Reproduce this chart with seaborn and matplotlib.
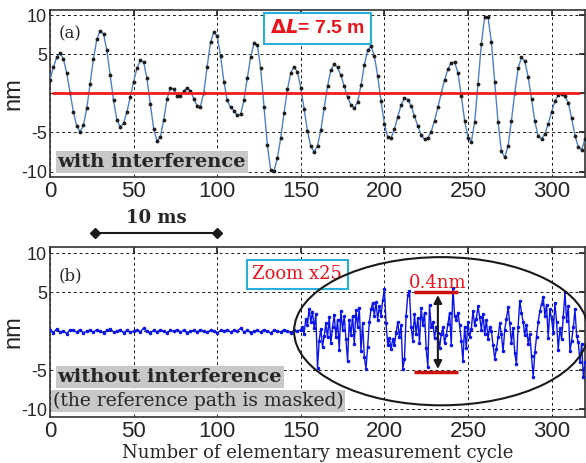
import numpy as np
import seaborn as sns
import matplotlib
matplotlib.use("Agg")
import matplotlib.pyplot as plt
import matplotlib.transforms as mtransforms
from matplotlib.patches import Ellipse

# valori (nm)
# pannello (a): un punto ogni 2 cicli, da 0 a 320
top_nm = [1.7, 3.3, 4.6, 5.1, 4.4, 2.6, 0.1, -2.4, -4.2, -4.9,
          -4.1, -1.9, 1.2, 4.4, 6.9, 8.0, 7.6, 5.5, 2.3, -0.9,
          -3.4, -4.3, -3.8, -2.4, -0.5, 1.5, 3.2, 4.2, 4.0, 1.9,
          -1.4, -4.5, -6.1, -5.6, -3.4, -0.7, 0.7, 0.5, -0.3, -0.3,
          0.3, 0.7, 0.3, -0.7, -1.6, -1.7, 0.1, 3.4, 6.5, 7.8,
          7.3, 4.8, 1.5, -0.9, -1.8, -2.2, -2.8, -2.7, -0.9, 1.9,
          4.6, 6.4, 6.2, 3.2, -1.7, -6.6, -9.8, -9.9, -8.3, -5.7,
          -2.5, 0.5, 2.6, 3.4, 2.7, 0.7, -2.0, -4.8, -6.8, -7.5,
          -6.7, -4.7, -1.9, 0.9, 3.0, 3.7, 3.3, 2.3, 0.9, -0.5,
          -1.5, -1.9, -1.1, 1.0, 3.6, 5.5, 6.0, 4.8, 2.2, -1.0,
          -3.9, -5.6, -5.7, -4.6, -3.0, -1.5, -0.6, -0.8, -1.6, -2.9,
          -4.2, -5.3, -5.9, -5.7, -4.9, -3.5, -1.8, 0.0, 1.7, 3.1,
          3.9, 4.0, 2.6, -0.3, -3.5, -5.7, -6.2, -3.7, 1.2, 6.3,
          9.8, 9.7, 6.6, 1.5, -3.7, -7.4, -8.2, -6.7, -3.5, 0.1,
          3.2, 4.6, 4.1, 2.1, -0.7, -3.6, -5.5, -5.8, -5.2, -3.9,
          -2.4, -1.0, -0.2, -0.1, -0.4, -1.2, -3.2, -5.4, -6.9, -7.2,
          -5.9]

# pannello (b): parte piatta, un punto ogni 2 cicli da 0 a 148
flat_nm = [0.1, -0.2, 0.3, -0.1, 0.0, -0.3, 0.2, 0.1, -0.1, 0.2,
           -0.2, 0.0, 0.1, -0.1, 0.2, 0.0, -0.2, 0.1, 0.3, -0.1,
           0.0, 0.2, -0.2, 0.1, -0.1, 0.0, 0.2, -0.1, 0.4, 0.0,
           -0.2, 0.1, -0.1, 0.2, 0.0, -0.2, 0.1, 0.0, 0.2, -0.1,
           0.1, -0.2, 0.0, 0.1, -0.1, 0.2, 0.0, -0.1, 0.1, 0.0,
           -0.2, 0.1, 0.0, 0.2, -0.1, 0.1, 0.0, 0.4, -0.1, 0.1,
           -0.2, 0.0, 0.1, -0.1, 0.2, 0.0, -0.2, 0.1, 0.0, -0.1,
           0.2, 0.0, -0.2, 0.1, 0.0]

# pannello (b): parte ingrandita x25, un punto per ciclo da 150 a 320
zoom_nm = [0.2, 0.5, -0.3, 1.6, 0.8, 2.9, 1.2, 2.5, 0.4, 2.2,
           -4.7, -1.2, 0.3, -2.0, -0.6, 1.0, -0.8, 1.8, -1.5, 0.5,
           2.1, -0.7, 1.5, -2.4, 2.6, 0.2, 1.9, -1.0, -3.8, 1.4,
           -0.5, 2.0, -1.6, 2.7, 0.6, 3.0, -2.5, 1.0, -3.3, -4.8,
           -2.0, 1.2, 2.8, 3.6, 2.0, 3.7, 1.5, 3.2, 2.0, 4.0,
           5.4, 1.0, -1.8, -0.9, -2.3, -1.0, -1.8, -0.2, 1.2, -0.8,
           0.8, -4.8, -3.6, 2.0, 4.6, 5.2, 0.5, -1.2, 2.2, -0.4,
           1.7, -1.5, 3.0, 0.8, 2.4, -2.2, -4.6, 3.3, 0.5, 1.2,
           -0.9, 0.6, -0.2, -2.2, -0.4, 0.5, -1.5, -0.5, 0.9, 2.4,
           -1.8, 5.6, 2.0, 1.4, 2.4, 0.8, -1.2, -3.8, 0.6, -2.2,
           1.2, -0.8, 0.3, 2.6, 0.8, 1.6, 3.2, 1.8, 0.2, 2.2,
           -0.3, 1.4, -1.0, 0.6, 0.0, -1.8, -3.5, -2.3, -0.8, 1.0,
           -0.4, -2.6, 0.2, 1.6, 3.1, 1.0, -1.5, 0.4, -2.8, -4.2,
           0.6, 3.9, 2.4, 1.2, -0.5, 0.8, -1.6, -0.4, -3.2, -5.9,
           -2.7, -0.8, 1.2, 2.6, 3.5, 4.4, 2.0, 3.4, -0.9, 2.8,
           1.6, -0.2, 3.6, 1.2, -2.4, 0.4, -1.0, 1.8, 5.0, 1.3,
           3.2, -2.6, -1.2, 0.5, 2.8, -0.6, -1.4, -4.0, -1.6, -5.9,
           -4.0]

x_ticks = [0, 50, 100, 150, 200, 250, 300]
y_ticks = [-10, -5, 0, 5, 10]
y_tick_labels = ["-10", "-5", "", "5", "10"]

top_x = np.arange(len(top_nm)) * 2
bottom_x = np.concatenate([np.arange(len(flat_nm)) * 2, 150 + np.arange(len(zoom_nm))])
bottom_nm = np.concatenate([flat_nm, zoom_nm])

sns.set_theme(style="white")
plt.rcParams["font.family"] = ["Liberation Sans", "DejaVu Sans"]
serif = ["DejaVu Serif"]

fig = plt.figure(figsize=(5.86, 4.63), dpi=100)
ax1 = fig.add_axes([50 / 586, 1 - 177 / 463, 535 / 586, 167 / 463])
ax2 = fig.add_axes([50 / 586, 1 - 417 / 463, 535 / 586, 170 / 463])

for ax in (ax1, ax2):
    ax.set_xlim(0, 320)
    ax.set_xticks(x_ticks)
    ax.set_yticks(y_ticks)
    ax.set_yticklabels(y_tick_labels)
    ax.grid(True, color="k", linestyle=(0, (3, 3)), linewidth=0.7)
    ax.tick_params(axis="x", labelsize=16, direction="in", length=4, pad=3, top=True)
    ax.tick_params(axis="y", labelsize=13, direction="in", length=4, pad=2, right=True)
    for s in ax.spines.values():
        s.set_color("#333333")
        s.set_linewidth(1.2)
    ax.set_ylabel("nm", fontsize=17)
    ax.yaxis.set_label_coords(-0.047, 0.5)

ax1.set_ylim(-10.7, 10.65)
ax2.set_ylim(-11.0, 10.8)

# (a) con interferenza
sns.lineplot(x=top_x, y=top_nm, ax=ax1, color="#4f7fc4", linewidth=1.0,
             marker="o", markersize=2, markerfacecolor="k", markeredgecolor="k", zorder=3)
ax1.hlines(0, 1, 317, color="#ee1c1c", linewidth=2, zorder=4)
ax1.text(5, 7.6, "(a)", family=serif, fontsize=12, va="center", ha="left")
ax1.text(4.5, -8.8, "with interference", family=serif, fontsize=14, fontweight="bold",
         va="center", ha="left",
         bbox=dict(boxstyle="square,pad=0.1", facecolor="#c8c8c8", edgecolor="none"))
ax1.text(160, 8.3, r"$\mathbf{\Delta}\mathbfit{L}$= 7.5 m", fontsize=14, fontweight="bold",
         color="#e8141c", va="center", ha="center",
         bbox=dict(boxstyle="square,pad=0.32", facecolor="white", edgecolor="#2ab0d8", linewidth=1.5))

# (b) senza interferenza
sns.lineplot(x=bottom_x, y=bottom_nm, ax=ax2, color="#0a14e6", linewidth=1.0,
             marker="o", markersize=1.8, markerfacecolor="#0a14e6", markeredgecolor="#0a14e6", zorder=3)
ax2.add_patch(Ellipse((234, 0), 176, 19, fill=False, edgecolor="k", linewidth=1.5,
                      clip_on=False, zorder=4))
ax2.hlines([5.0, -5.2], 218, 244, color="#cc1111", linewidth=2.5, zorder=5)
ax2.annotate("", xy=(232, -5.2), xytext=(232, 5.0),
             arrowprops=dict(arrowstyle="<|-|>", color="k", lw=1.5, mutation_scale=12), zorder=6)
ax2.text(232, 6.2, "0.4nm", family=serif, fontsize=13, color="#e8141c", va="center", ha="center")
ax2.text(148, 7.3, "Zoom x25", family=serif, fontsize=13, color="#e8141c", va="center", ha="center",
         bbox=dict(boxstyle="square,pad=0.3", facecolor="white", edgecolor="#2ab0d8", linewidth=1.5))
ax2.text(5, 7.1, "(b)", family=serif, fontsize=12, va="center", ha="left")
ax2.text(4.5, -5.9, "without interference", family=serif, fontsize=14, fontweight="bold",
         va="center", ha="left",
         bbox=dict(boxstyle="square,pad=0.1", facecolor="#c8c8c8", edgecolor="none"))
ax2.text(1.5, -8.9, "(the reference path is masked)", family=serif, fontsize=13.5,
         va="center", ha="left",
         bbox=dict(boxstyle="square,pad=0.1", facecolor="#c8c8c8", edgecolor="none"))
ax2.set_xlabel("Number of elementary measurement cycle", family=serif, fontsize=13, labelpad=1)

# barra 10 ms
trans = mtransforms.blended_transform_factory(ax2.transData, ax2.transAxes)
ax2.plot([27, 100], [1.08, 1.08], transform=trans, clip_on=False, color="k",
         linewidth=1.5, marker="D", markersize=5)
ax2.text(63.5, 1.17, "10 ms", transform=trans, family=serif, fontsize=13,
         fontweight="bold", ha="center", va="center")

fig.savefig("out.png", dpi=100)
